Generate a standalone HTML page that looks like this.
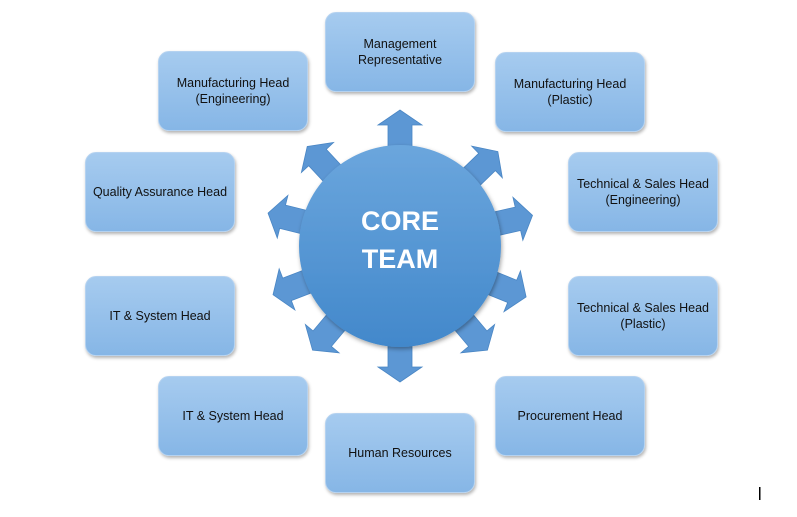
<!DOCTYPE html>
<html><head><style>
body{margin:0;background:#fff;width:797px;height:517px;overflow:hidden;position:relative;font-family:"Liberation Sans",sans-serif}
.b{position:absolute;width:148px;height:78px;border-radius:11px;background:linear-gradient(#a6cbef,#86b6e6);border:1px solid #b5d2f0;box-shadow:1px 2px 3px rgba(0,0,0,.3);display:flex;align-items:center;justify-content:center;text-align:center;font-size:12.5px;color:#111;line-height:16px}
</style></head><body>
<svg width="797" height="517" style="position:absolute;left:0;top:0">
<defs>
<linearGradient id="g" x1="0" y1="0" x2="0" y2="1"><stop offset="0" stop-color="#6ba6dd"/><stop offset="1" stop-color="#4288cb"/></linearGradient>
<filter id="s"><feDropShadow dx="1" dy="2" stdDeviation="2" flood-opacity=".35"/></filter>
</defs>
<g transform="translate(400,246)" fill="#5c97d4" stroke="#4a86c4" stroke-width="0.8">
<g id="a"><polygon points="-12,-80 -12,-121 -22,-121 0,-136 22,-121 12,-121 12,-80"/></g>
<use href="#a" transform="rotate(46)"/><use href="#a" transform="rotate(77)"/><use href="#a" transform="rotate(112)"/>
<use href="#a" transform="rotate(140)"/><use href="#a" transform="rotate(180)"/><use href="#a" transform="rotate(220)"/>
<use href="#a" transform="rotate(249)"/><use href="#a" transform="rotate(284)"/><use href="#a" transform="rotate(317)"/>
<circle r="101" fill="url(#g)" stroke="none" filter="url(#s)"/>
<text x="0" y="-16" text-anchor="middle" fill="#fff" font-size="27" font-weight="bold" stroke="none" font-family="Liberation Sans">CORE</text>
<text x="0" y="22" text-anchor="middle" fill="#fff" font-size="27" font-weight="bold" stroke="none" font-family="Liberation Sans">TEAM</text>
</g>
<rect x="759" y="487" width="1.5" height="13" fill="#000"/>
</svg>
<div class="b" style="left:325px;top:12px">Management<br>Representative</div>
<div class="b" style="left:158px;top:51px">Manufacturing Head<br>(Engineering)</div>
<div class="b" style="left:495px;top:52px">Manufacturing Head<br>(Plastic)</div>
<div class="b" style="left:85px;top:152px">Quality Assurance Head</div>
<div class="b" style="left:568px;top:152px">Technical &amp; Sales Head<br>(Engineering)</div>
<div class="b" style="left:85px;top:276px">IT &amp; System Head</div>
<div class="b" style="left:568px;top:276px">Technical &amp; Sales Head<br>(Plastic)</div>
<div class="b" style="left:158px;top:376px">IT &amp; System Head</div>
<div class="b" style="left:495px;top:376px">Procurement Head</div>
<div class="b" style="left:325px;top:413px">Human Resources</div>
</body></html>
